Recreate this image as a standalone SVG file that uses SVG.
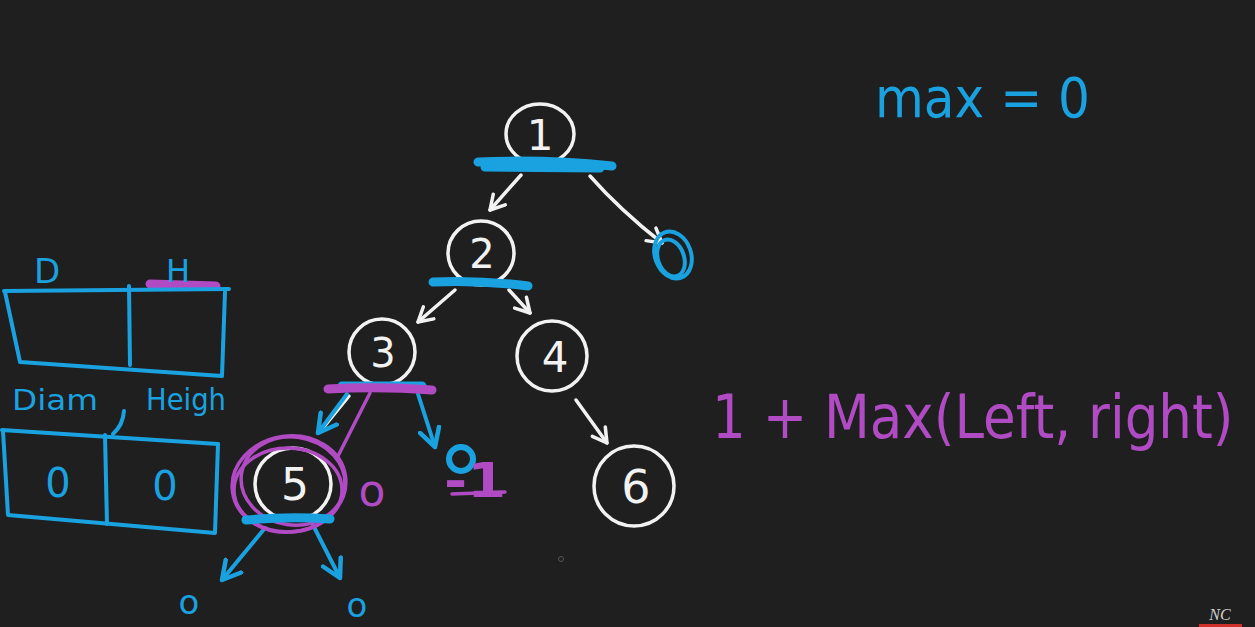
<svg xmlns="http://www.w3.org/2000/svg" width="1255" height="627" viewBox="0 0 1255 627">
<defs>
<style>
.bg{fill:#1f1f1f}
.wc{fill:none;stroke:#f2f2f2;stroke-width:3.5}
.wl{fill:none;stroke:#f2f2f2;stroke-width:3.5;stroke-linecap:round;stroke-linejoin:round}
.bl{fill:none;stroke:#1aa2e0;stroke-width:4;stroke-linecap:round;stroke-linejoin:round}
.bbar{fill:none;stroke:#1aa2e0;stroke-width:9;stroke-linecap:round}
.mbar{fill:none;stroke:#b04bc4;stroke-width:9;stroke-linecap:round}
.ml{fill:none;stroke:#b04bc4;stroke-width:3.5;stroke-linecap:round;stroke-linejoin:round}
.wt{fill:#f2f2f2;font-family:"DejaVu Sans",sans-serif;text-anchor:middle}
.bt{fill:#1aa2e0;font-family:"DejaVu Sans",sans-serif}
.mt{fill:#b04bc4;font-family:"DejaVu Sans",sans-serif}
</style>
<marker id="aw" viewBox="0 0 20 20" refX="16" refY="10" markerWidth="20" markerHeight="20" markerUnits="userSpaceOnUse" orient="auto">
<polyline points="2,2 16,10 2,18" fill="none" stroke="#f2f2f2" stroke-width="3.5" stroke-linecap="round" stroke-linejoin="round"/>
</marker>
<marker id="ab" viewBox="0 0 24 24" refX="20" refY="12" markerWidth="24" markerHeight="24" markerUnits="userSpaceOnUse" orient="auto">
<polyline points="2,2 20,12 2,22" fill="none" stroke="#1aa2e0" stroke-width="4.5" stroke-linecap="round" stroke-linejoin="round"/>
</marker>
</defs>
<rect class="bg" x="0" y="0" width="1255" height="627"/>

<g id="connectors">
<path class="wl" d="M521,175 L490,210" marker-end="url(#aw)"/>
<path class="wl" d="M590,176 Q620,210 662,243" marker-end="url(#aw)"/>
<path class="wl" d="M455,290 L418,322" marker-end="url(#aw)"/>
<path class="wl" d="M509,290 L530,313" marker-end="url(#aw)"/>
<path class="wl" d="M576,400 L607,443" marker-end="url(#aw)"/>
<path class="wl" d="M349,396 L323,428"/>
<path class="bl" d="M347,394 L318,433" marker-end="url(#ab)"/>
<path class="bl" d="M418,394 L435,447" marker-end="url(#ab)"/>
<path class="ml" d="M370,393 L337,458"/>
<path class="bl" d="M265,528 L222,580" marker-end="url(#ab)"/>
<path class="bl" d="M313,525 L340,578" marker-end="url(#ab)"/>
</g>

<g id="node-1">
<ellipse class="wc" cx="540" cy="134" rx="34" ry="30"/>
<text class="wt" x="540" y="150" font-size="42">1</text>
<path class="bbar" d="M478,162 Q545,159 612,166"/>
<path class="bbar" d="M485,167 L600,168" stroke-width="6"/>
</g>

<g id="node-1-right-null">
<ellipse class="bl" cx="673" cy="255" rx="18" ry="24" transform="rotate(-20 673 255)"/>
<ellipse class="bl" cx="671" cy="258" rx="13" ry="19" transform="rotate(-20 671 258)"/>
</g>

<g id="node-2">
<ellipse class="wc" cx="481" cy="253" rx="33" ry="32"/>
<text class="wt" x="482" y="268" font-size="40">2</text>
<path class="bbar" d="M433,282 Q480,280 528,286"/>
</g>

<g id="node-3">
<ellipse class="wc" cx="382" cy="352" rx="33" ry="33"/>
<text class="wt" x="383" y="367" font-size="40">3</text>
<path class="bbar" d="M342,386 L422,386" stroke-width="6"/>
<path class="mbar" d="M328,389 Q380,386 432,390"/>
</g>

<g id="node-4">
<ellipse class="wc" cx="552" cy="356" rx="35" ry="35"/>
<text class="wt" x="555" y="372" font-size="42">4</text>
</g>

<g id="node-5">
<ellipse class="wc" cx="293" cy="484" rx="38" ry="36"/>
<text class="wt" x="295" y="500" font-size="44">5</text>
<ellipse class="ml" cx="289" cy="484" rx="57" ry="48" transform="rotate(-8 289 484)"/>
<ellipse class="ml" cx="293" cy="481" rx="52" ry="44" transform="rotate(8 293 481)"/>
<ellipse class="ml" cx="288" cy="490" rx="54" ry="42"/>
<path class="bbar" d="M246,520 Q290,516 330,519" stroke-width="7"/>
</g>

<g id="node-6">
<ellipse class="wc" cx="634" cy="486" rx="40" ry="40"/>
<text class="wt" x="636" y="503" font-size="46">6</text>
</g>

<g id="annotations">
<text class="mt" x="372" y="506" font-size="44" text-anchor="middle">o</text>
<ellipse cx="461" cy="459" rx="12" ry="12" fill="none" stroke="#1aa2e0" stroke-width="6"/>
<text class="mt" x="444" y="497" font-size="48" font-weight="bold" textLength="62" lengthAdjust="spacingAndGlyphs">-1</text>
<path class="ml" d="M452,494 L505,492" stroke-width="6"/>
<text class="bt" x="189" y="614" font-size="34" text-anchor="middle">o</text>
<text class="bt" x="357" y="617" font-size="34" text-anchor="middle">o</text>
</g>

<g id="max-label">
<text class="bt" x="875" y="117" font-size="56" textLength="215" lengthAdjust="spacingAndGlyphs">max = 0</text>
</g>

<g id="formula">
<text class="mt" x="0" y="0" font-size="60" transform="translate(712 438) scale(0.885 1)">1 + Max(Left, right)</text>
</g>

<g id="table-top">
<text class="bt" x="34" y="283" font-size="34">D</text>
<path class="mbar" d="M150,284 L216,286" stroke-width="7"/>
<text class="bt" x="166" y="282" font-size="32">H</text>
<path class="bl" d="M4,291 L229,289"/>
<path class="bl" d="M5,292 L20,362 L222,376 L225,292"/>
<path class="bl" d="M129,286 L130,365"/>
</g>

<g id="table-bottom">
<text class="bt" x="12" y="410" font-size="28" textLength="86" lengthAdjust="spacingAndGlyphs">Diam</text>
<path class="bl" d="M124,411 Q123,425 113,434"/>
<text class="bt" x="146" y="410" font-size="30" textLength="80" lengthAdjust="spacingAndGlyphs">Heigh</text>
<path class="bl" d="M2,430 L218,444"/>
<path class="bl" d="M3,431 L8,515 L215,533 L218,444"/>
<path class="bl" d="M105,435 L107,524"/>
<text class="bt" x="58" y="497" font-size="40" text-anchor="middle">0</text>
<text class="bt" x="165" y="500" font-size="40" text-anchor="middle">0</text>
</g>

<g id="watermark">
<text x="1220" y="620" font-family="Liberation Serif,serif" font-style="italic" font-size="16" fill="#cfcfcf" text-anchor="middle">NC</text>
<rect x="1199" y="624" width="43" height="3" fill="#d0302a"/>
<circle cx="561" cy="559" r="2.5" fill="none" stroke="#555" stroke-width="1"/>
</g>
</svg>
